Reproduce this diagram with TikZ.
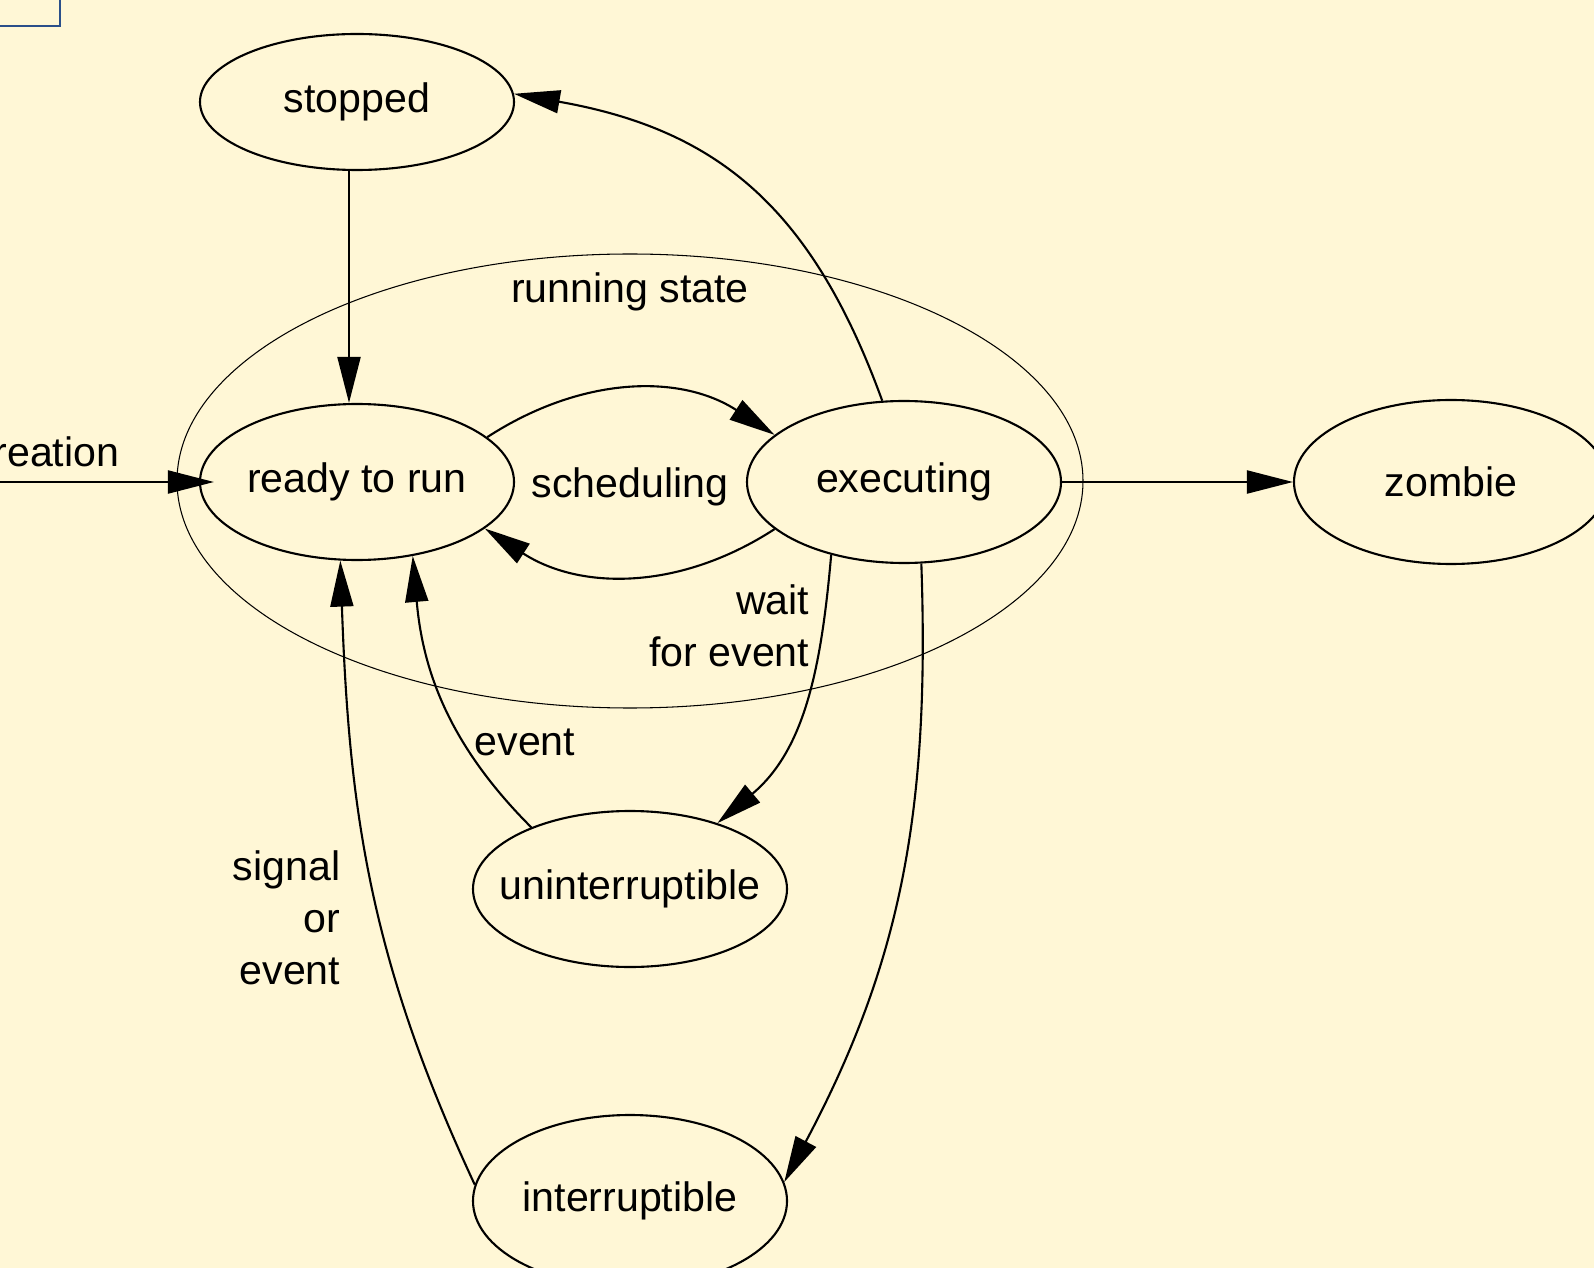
\documentclass[tikz,border=0pt]{standalone}
\usepackage{fontspec}
\setmainfont{Liberation Sans}
\usepackage{tikz}
\usetikzlibrary{shapes.geometric,arrows.meta}
\definecolor{paperc}{HTML}{FFF7D6}
\definecolor{framec}{HTML}{2A4F8A}
\tikzset{
  statebox/.style={ellipse, draw, line width=0.6pt, minimum width=3.14cm, inner xsep=-1cm, inner ysep=0pt},
  runbox/.style={ellipse, draw, line width=0.3pt, minimum width=9.06cm, minimum height=4.54cm},
  trans/.style={draw, line width=0.6pt, -{Triangle[length=0.46cm,width=0.23cm]}},
  tag/.style={inner sep=0pt, align=right},
}

\begin{document}
\begin{tikzpicture}[font=\fontsize{11.7}{14.8}\selectfont]
\useasboundingbox (0,0) rectangle (15.94,-12.68);
\fill[paperc] (0,0) rectangle (15.94,-12.68);
\draw[framec, line width=0.6pt] (-0.100,0.100) rectangle (0.600,-0.260);
\node[runbox] (running) at (6.300,-4.810) {};
\node[tag] (runtag) at (6.300,-2.920) {running state};
\node[statebox, minimum height=1.36cm] (stopped) at (3.570,-1.020) {stopped};
\node[statebox, minimum height=1.56cm] (ready) at (3.570,-4.820) {ready to run};
\node[statebox, minimum height=1.62cm] (executing) at (9.040,-4.820) {executing};
\node[statebox, minimum height=1.64cm] (zombie) at (14.510,-4.820) {zombie};
\node[statebox, minimum height=1.56cm] (uninterruptible) at (6.300,-8.890) {uninterruptible};
\node[statebox, minimum height=1.72cm] (interruptible) at (6.300,-12.010) {interruptible};
\coordinate (origin) at (0,-4.820);
\node[tag, anchor=east] (creationtag) at (1.200,-4.520) {creation};
\node[tag] (schedtag) at (6.300,-4.870) {scheduling};
\node[tag, anchor=east] (waittag) at (8.100,-6.260) {wait\\for event};
\node[tag] (eventtag) at (5.250,-7.420) {event};
\node[tag, anchor=east] (signaltag) at (3.410,-9.180) {signal\\or\\event};
% transitions
\draw[trans, shorten >=-0.15cm] (origin) -- (ready.west);
\draw[trans] ([xshift=-0.08cm]stopped.south) -- ([xshift=-0.08cm]ready.north);
\draw[trans] (ready.19) to[out=33,in=147] (executing.160);
\draw[trans] (executing.200) to[out=213,in=-33] (ready.340);
\draw[trans] (executing.105) to[out=110,in=-10,looseness=1.1] (stopped.3);
\draw[trans] (executing.east) -- (zombie.west);
\draw[trans] (executing.225) to[out=265,in=40] (uninterruptible.37);
\draw[trans] (uninterruptible.148) to[out=135,in=-85] (ready.307);
\draw[trans] (executing.282) to[out=272,in=62] (interruptible.7);
\draw[trans] (interruptible.174) to[out=115,in=-88] (ready.258);
\end{tikzpicture}
\end{document}
